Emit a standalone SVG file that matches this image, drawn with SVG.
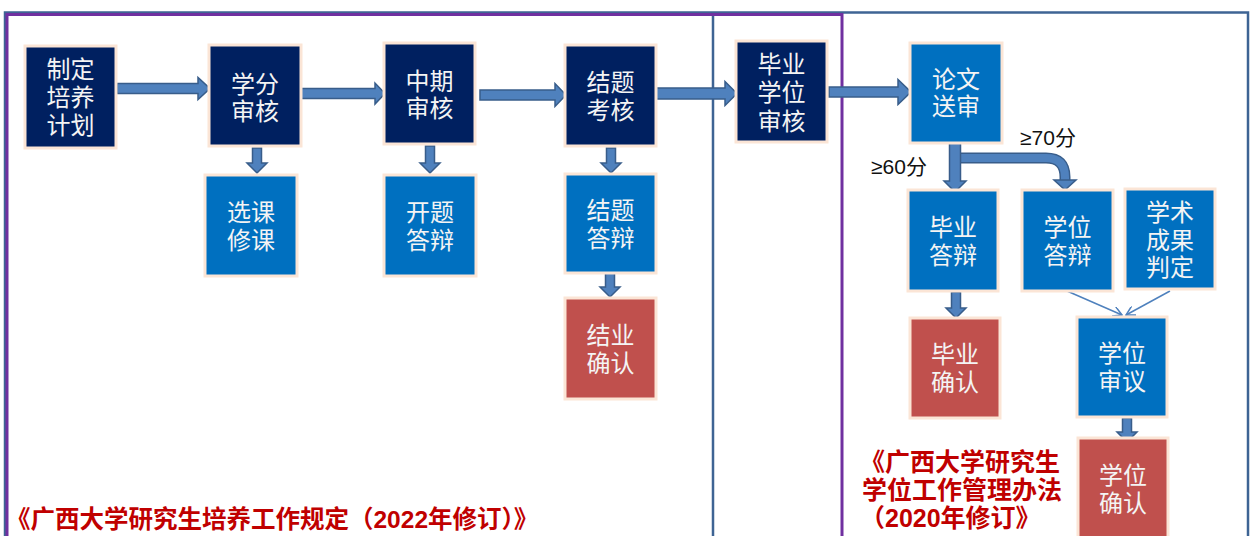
<svg xmlns="http://www.w3.org/2000/svg" width="1254" height="536" viewBox="0 0 1254 536">
<defs>
<style>
.nd rect{stroke:#FBE5D6;stroke-width:3}
.navy{fill:#002060}
.blue{fill:#0070C0}
.red{fill:#C0504D}
.nt{font-family:"Liberation Sans","Noto Sans CJK SC",sans-serif;font-size:24px;fill:#F4F4F4;text-anchor:middle}
.ar{fill:#4F81BD;stroke:#385D8A;stroke-width:1.5;stroke-linejoin:miter}
.lbl{font-family:"Liberation Sans","Noto Sans CJK SC",sans-serif;font-size:21px;fill:#111}
.ref{font-family:"Liberation Sans","Noto Sans CJK SC",sans-serif;font-weight:700;fill:#C00000}
.thin{stroke:#4F81BD;stroke-width:1.5;fill:none}
</style>
<marker id="vh" viewBox="0 0 10 10" refX="9" refY="5" markerWidth="10" markerHeight="10" markerUnits="userSpaceOnUse" orient="auto">
<path d="M0,0 L9,5 L0,10" fill="none" stroke="#4F81BD" stroke-width="1.5"/>
</marker>
</defs>
<rect width="1254" height="536" fill="#FFFFFF"/>
<g id="frames">
<rect x="5" y="12.5" width="1243" height="540" fill="none" stroke="#3E6494" stroke-width="2.5"/>
<line x1="713" y1="12" x2="713" y2="536" stroke="#3E6494" stroke-width="2.5"/>
<rect x="7" y="14.5" width="835" height="540" fill="none" stroke="#7030A0" stroke-width="3"/>
</g>
<g id="connectors">
<polygon class="ar" points="117,83.5 198,83.5 198,77.5 210,88.5 198,99.5 198,93.5 117,93.5"/>
<polygon class="ar" points="301,88.5 375,88.5 375,83 385,93.5 375,104 375,98.5 301,98.5"/>
<polygon class="ar" points="480,90 555,90 555,83.5 566,95 555,106.5 555,100 480,100"/>
<polygon class="ar" points="656,88 725,88 725,81.5 737,93.5 725,105.5 725,99 656,99"/>
<polygon class="ar" points="829,87 898,87 898,79.5 911,92 898,104.5 898,97 829,97"/>
<polygon class="ar" points="252.5,148 261.5,148 261.5,163 267,163 257,173 247,163 252.5,163"/>
<polygon class="ar" points="425.5,146 434.5,146 434.5,163 440,163 430,173 420,163 425.5,163"/>
<polygon class="ar" points="606.5,148 615.5,148 615.5,163 621,163 611,173 601,163 606.5,163"/>
<polygon class="ar" points="605.5,272 614.5,272 614.5,287 620,287 610,297 600,287 605.5,287"/>
<polygon class="ar" points="951.5,292 960.5,292 960.5,308 966,308 956,318 946,308 951.5,308"/>
<polygon class="ar" points="1122.5,418 1131.5,418 1131.5,432 1137,432 1127,442 1117,432 1122.5,432"/>
<path d="M960,158 H1046 Q1065,158 1065,177 V181" fill="none" stroke="#385D8A" stroke-width="11"/>
<path d="M960,158 H1046 Q1065,158 1065,177 V182" fill="none" stroke="#4F81BD" stroke-width="8"/>
<polygon class="ar" points="1054,180 1076,180 1065,190"/>
<polygon class="ar" points="949.5,143 960.5,143 960.5,181 966,181 955,192 944,181 949.5,181"/>
<line class="thin" x1="1067" y1="291" x2="1122" y2="315" marker-end="url(#vh)"/>
<line class="thin" x1="1170" y1="291" x2="1126" y2="315" marker-end="url(#vh)"/>
</g>
<g id="n1" class="nd"><rect class="navy" x="25" y="46" width="91" height="102"/><text class="nt"><tspan x="70.5" y="78">制定</tspan><tspan x="70.5" y="106">培养</tspan><tspan x="70.5" y="134">计划</tspan></text></g>
<g id="n2" class="nd"><rect class="navy" x="209" y="45" width="92" height="101"/><text class="nt"><tspan x="255" y="93">学分</tspan><tspan x="255" y="120">审核</tspan></text></g>
<g id="n3" class="nd"><rect class="navy" x="384" y="43" width="91" height="101"/><text class="nt"><tspan x="429.5" y="90">中期</tspan><tspan x="429.5" y="117">审核</tspan></text></g>
<g id="n4" class="nd"><rect class="navy" x="565" y="45" width="91" height="101"/><text class="nt"><tspan x="610.5" y="91">结题</tspan><tspan x="610.5" y="119">考核</tspan></text></g>
<g id="n5" class="nd"><rect class="navy" x="736" y="41" width="91" height="101"/><text class="nt"><tspan x="781.5" y="73">毕业</tspan><tspan x="781.5" y="101">学位</tspan><tspan x="781.5" y="130">审核</tspan></text></g>
<g id="n6" class="nd"><rect class="blue" x="910" y="43" width="92" height="100"/><text class="nt"><tspan x="956" y="88">论文</tspan><tspan x="956" y="115">送审</tspan></text></g>
<g id="n7" class="nd"><rect class="blue" x="205" y="175" width="92" height="101"/><text class="nt"><tspan x="251" y="221">选课</tspan><tspan x="251" y="249">修课</tspan></text></g>
<g id="n8" class="nd"><rect class="blue" x="384" y="175" width="92" height="101"/><text class="nt"><tspan x="430" y="221">开题</tspan><tspan x="430" y="249">答辩</tspan></text></g>
<g id="n9" class="nd"><rect class="blue" x="565" y="174" width="91" height="99"/><text class="nt"><tspan x="610.5" y="219">结题</tspan><tspan x="610.5" y="247">答辩</tspan></text></g>
<g id="n10" class="nd"><rect class="red" x="565" y="298" width="91" height="101"/><text class="nt"><tspan x="610.5" y="344">结业</tspan><tspan x="610.5" y="372">确认</tspan></text></g>
<g id="n11" class="nd"><rect class="blue" x="908" y="190" width="90" height="101"/><text class="nt"><tspan x="953" y="236">毕业</tspan><tspan x="953" y="264">答辩</tspan></text></g>
<g id="n12" class="nd"><rect class="blue" x="1022" y="190" width="91" height="101"/><text class="nt"><tspan x="1067.5" y="236">学位</tspan><tspan x="1067.5" y="264">答辩</tspan></text></g>
<g id="n13" class="nd"><rect class="blue" x="1125" y="189" width="90" height="100"/><text class="nt"><tspan x="1170" y="221">学术</tspan><tspan x="1170" y="249">成果</tspan><tspan x="1170" y="276">判定</tspan></text></g>
<g id="n14" class="nd"><rect class="red" x="910" y="318" width="90" height="100"/><text class="nt"><tspan x="955" y="363">毕业</tspan><tspan x="955" y="391">确认</tspan></text></g>
<g id="n15" class="nd"><rect class="blue" x="1077" y="317" width="90" height="100"/><text class="nt"><tspan x="1122" y="362">学位</tspan><tspan x="1122" y="390">审议</tspan></text></g>
<g id="n16" class="nd"><rect class="red" x="1078" y="438" width="90" height="110"/><text class="nt"><tspan x="1123" y="484">学位</tspan><tspan x="1123" y="512">确认</tspan></text></g>
<g id="labels">
<text class="lbl" x="871" y="174">≥60分</text>
<text class="lbl" x="1020" y="145">≥70分</text>
<text class="ref" x="6" y="528" font-size="24.5">《广西大学研究生培养工作规定（2022年修订）》</text>
<text class="ref" font-size="25"><tspan x="860" y="471">《广西大学研究生</tspan><tspan x="862" y="499">学位工作管理办法</tspan><tspan x="860" y="527">（2020年修订》</tspan></text>
</g>
</svg>
